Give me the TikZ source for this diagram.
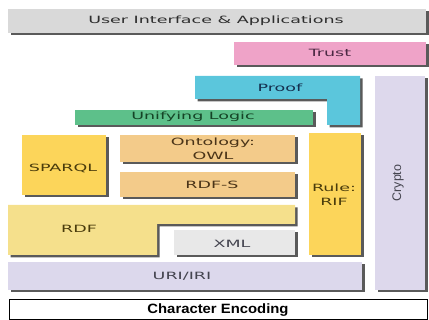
\documentclass[tikz,border=0pt]{standalone}
\usepackage{fontspec}
\setmainfont{DejaVu Sans}
\newfontfamily\arialfont{Liberation Sans}

\definecolor{uiFill}{HTML}{D9D9D9}
\definecolor{trustFill}{HTML}{EFA3C8}
\definecolor{proofFill}{HTML}{5BC6DC}
\definecolor{logicFill}{HTML}{5DC08A}
\definecolor{cryptoFill}{HTML}{DDD8EC}
\definecolor{ruleFill}{HTML}{FCD55A}
\definecolor{owlFill}{HTML}{F3CB8A}
\definecolor{rdfFill}{HTML}{F5E08C}
\definecolor{xmlFill}{HTML}{E8E8E8}
\definecolor{uriFill}{HTML}{DCD8EC}
\definecolor{shadowFill}{HTML}{5A5A5A}

\definecolor{uiText}{HTML}{2E2E2E}
\definecolor{trustText}{HTML}{4A2842}
\definecolor{proofText}{HTML}{15304F}
\definecolor{logicText}{HTML}{154426}
\definecolor{brownText}{HTML}{4A3418}
\definecolor{yellowText}{HTML}{4A3C0C}
\definecolor{greyText}{HTML}{44444F}

\newcommand{\wide}[1]{\scalebox{1.75}[1]{#1}}
% a filled block with a dark shadow offset to the lower right
\newcommand{\layerblock}[2]{%
  \begin{scope}[shift={(2.5,2.5)}]
    \fill[shadowFill] #2;
  \end{scope}
  \fill[#1] #2;}

\tikzset{
  lbl/.style={text=#1, font=\fontsize{10}{14}\selectfont,
              align=center, inner sep=0pt},
}

\begin{document}
\begin{tikzpicture}[x=1pt, y=-1pt]
  \useasboundingbox (0,0) rectangle (429,320);

  % layer blocks
  \layerblock{uiFill}{(8,9) rectangle (426,33)}
  \layerblock{trustFill}{(234,42) rectangle (426,65)}
  \layerblock{proofFill}{(195,76) -- (360,76) -- (360,125) -- (327,125)
                         -- (327,99) -- (195,99) -- cycle}
  \layerblock{cryptoFill}{(375,76) rectangle (425,290)}
  \layerblock{logicFill}{(75,110) rectangle (313,125)}
  \layerblock{ruleFill}{(22,135) rectangle (106,195)}
  \layerblock{owlFill}{(120,135) rectangle (295,162)}
  \layerblock{owlFill}{(120,172) rectangle (295,197)}
  \layerblock{ruleFill}{(309,133) rectangle (361,255)}
  \layerblock{rdfFill}{(8,205) -- (295,205) -- (295,224) -- (157,224)
                       -- (157,255) -- (8,255) -- cycle}
  \layerblock{xmlFill}{(174,230) rectangle (295,255)}
  \layerblock{uriFill}{(8,262) rectangle (362,290)}
  \draw[fill=white, line width=1pt] (9.5,299.5) rectangle (427,319.5);

  % labels
  \node[lbl=uiText]     (ui)     at (216,21)  {\wide{User Interface \& Applications}};
  \node[lbl=trustText]  (trust)  at (330,53)  {\wide{Trust}};
  \node[lbl=proofText]  (proof)  at (280,88)  {\wide{Proof}};
  \node[lbl=logicText]  (logic)  at (193,117) {\wide{Unifying Logic}};
  \node[lbl=brownText]  (owl)    at (213,149) {\wide{Ontology:}\\\wide{OWL}};
  \node[lbl=brownText]  (rdfs)   at (212,185) {\wide{RDF-S}};
  \node[lbl=yellowText] (sparql) at (63,168)  {\wide{SPARQL}};
  \node[lbl=yellowText] (rule)   at (334,195) {\wide{Rule:}\\\wide{RIF}};
  \node[lbl=yellowText] (rdf)    at (79,229)  {\wide{RDF}};
  \node[lbl=greyText]   (xml)    at (232,244) {\wide{XML}};
  \node[lbl=greyText]   (uri)    at (182,276) {\wide{URI/IRI}};
  \node[text=greyText, font=\arialfont\fontsize{12.5}{14}\selectfont,
        rotate=90, inner sep=0pt] (crypto) at (398,183) {Crypto};
  \node[font=\arialfont\bfseries\fontsize{13.5}{15}\selectfont, inner sep=0pt]
        (enc) at (218,310) {\scalebox{1.1}[1]{Character Encoding}};
\end{tikzpicture}
\end{document}
